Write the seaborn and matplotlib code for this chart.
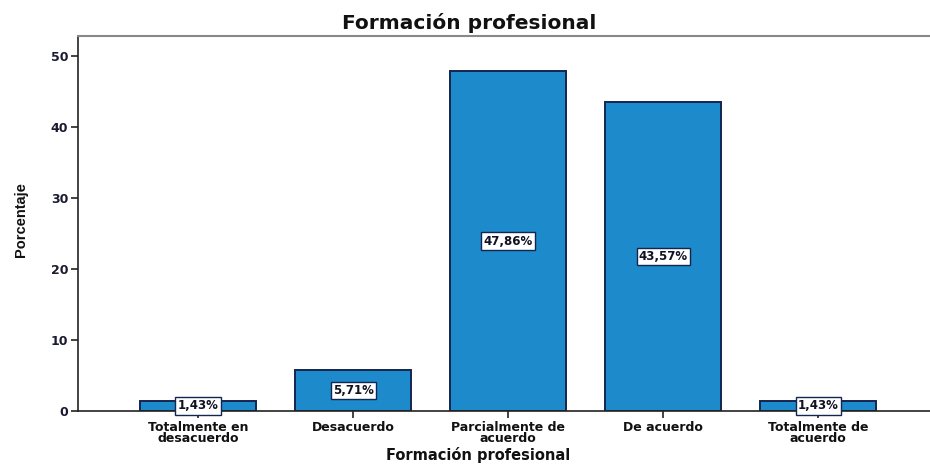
import matplotlib
matplotlib.use("Agg")
import matplotlib.pyplot as plt
import seaborn as sns
import pandas as pd

categories = ["Totalmente en\ndesacuerdo", "Desacuerdo", "Parcialmente de\nacuerdo",
              "De acuerdo", "Totalmente de\nacuerdo"]
percentages = [1.43, 5.71, 47.86, 43.57, 1.43]
bar_labels = ["1,43%", "5,71%", "47,86%", "43,57%", "1,43%"]
y_ticks = [0, 10, 20, 30, 40, 50]

sns.set_theme(style="white")
plt.rcParams['font.family'] = ['DejaVu Sans']
plt.rcParams['text.color'] = '#111111'

df = pd.DataFrame({"cat": categories, "pct": percentages})

fig = plt.figure(figsize=(9.3, 4.65), dpi=100)
ax = fig.add_axes([78/930, 54/465, 1 - 78/930, (411-36)/465])

sns.barplot(data=df, x="cat", y="pct", ax=ax, color="#1c8acb", saturation=1,
            width=0.75, edgecolor="#14264f", linewidth=1.4)

for i, (v, lab) in enumerate(zip(percentages, bar_labels)):
    ax.text(i, v / 2, lab, ha="center", va="center", fontsize=8.5, fontweight="bold",
            color="#111122",
            bbox=dict(boxstyle="square,pad=0.18", facecolor="white", edgecolor="#14264f", linewidth=1.0))

ax.set_xlim(-0.774, 4.72)
ax.set_ylim(0, 52.8)
ax.set_yticks(y_ticks)
ax.set_yticklabels([str(t) for t in y_ticks], fontsize=9, fontweight="bold", color="#1a1a30")
ax.set_xticks(range(len(categories)))
ax.set_xticklabels(categories, fontsize=9, fontweight="bold", linespacing=0.85, color="#111111")
ax.tick_params(axis="both", direction="out", length=5, width=1.2, color="#222222", pad=2,
               bottom=True, left=True)

ax.set_xlabel("")
ax.set_ylabel("")
for s in ["left", "bottom"]:
    ax.spines[s].set_color("#222222")
    ax.spines[s].set_linewidth(1.2)
ax.spines["top"].set_color("#888888")
ax.spines["top"].set_linewidth(1.5)
ax.spines["right"].set_visible(False)

fig.text(469/930, 1 - 23/465, "Formación profesional", ha="center", va="center",
         fontsize=14.5, fontweight="bold")
fig.text(478/930, 1 - 455/465, "Formación profesional", ha="center", va="center",
         fontsize=10.5, fontweight="bold")
fig.text(21/930, 1 - 220/465, "Porcentaje", ha="center", va="center", rotation=90,
         fontsize=10.5, fontweight="bold",
         family=['Liberation Sans Narrow', 'Liberation Sans', 'DejaVu Sans'])

fig.savefig("out.png", dpi=100)
